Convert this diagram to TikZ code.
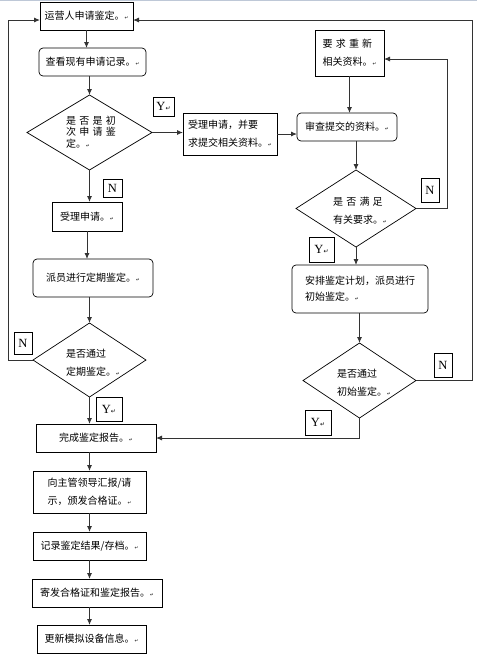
\documentclass[tikz,border=0pt]{standalone}
\usepackage{fontspec}
\setmainfont{Liberation Serif}
\newfontfamily\cjk{Noto Sans CJK SC}
\newfontfamily\dvs{DejaVu Sans}
\usetikzlibrary{arrows.meta,shapes.geometric,calc}
\definecolor{topline}{RGB}{190,200,215}
\newcommand{\pmk}{{\dvs\fontsize{4.5}{5}\selectfont ↵}}
\newcommand{\pmy}{{\dvs\fontsize{6}{6}\selectfont ↵}}
\newcommand{\gp}{\hspace{3.2pt}}
\begin{document}
\begin{tikzpicture}[x=1pt,y=-1pt,
  every node/.style={inner sep=0pt, outer sep=0pt},
  txt/.style={font=\cjk\fontsize{10}{18}\selectfont, align=left},
  box/.style={txt, draw=black, line width=0.7pt},
  rbox/.style={box, rounded corners=4pt},
  dia/.style={diamond, draw=black, line width=0.7pt},
  lab/.style={draw=black, line width=0.6pt, font=\fontsize{12.5}{13}\selectfont},
  arr/.style={draw=black!80, line width=0.9pt, -{Latex[length=6pt,width=5pt]}},
  lin/.style={draw=black!80, line width=0.9pt}
]
\useasboundingbox (0,0) rectangle (477,657);
\draw[topline, line width=1.2pt] (0,0.6) -- (477,0.6);

% left column
\node[box, minimum width=93pt, minimum height=28pt] (b1) at (86.5,16) {运营人申请鉴定。\pmk};
\node[rbox, minimum width=107pt, minimum height=28pt] (b2) at (92.5,62) {查看现有申请记录。\pmk};
\node[dia, minimum width=125pt, minimum height=75pt] (d1) at (89.5,132.5) {};
\node[txt, font=\cjk\fontsize{10}{11.5}\selectfont] (d1t) at (91,132) {是\gp 否\gp 是\gp 初\\次\gp 申\gp 请\gp 鉴\\定。\pmk};
\node[box, minimum width=70pt, minimum height=29pt] (b6) at (87,216.5) {受理申请。\pmk};
\node[rbox, minimum width=120pt, minimum height=38pt] (b7) at (93,278) {派员进行定期鉴定。\pmk};
\node[dia, minimum width=113pt, minimum height=74pt] (d2) at (89.5,360) {};
\node[txt] (d2t) at (93,362.5) {是否通过\\定期鉴定。\pmk};
\node[box, minimum width=120pt, minimum height=28pt] (b8) at (96,438) {完成鉴定报告。\pmk};
\node[box, minimum width=113pt, minimum height=42pt] (b9) at (89.5,492) {向主管领导汇报/请\\示，颁发合格证。\pmk};
\node[box, minimum width=113pt, minimum height=28pt] (b10) at (89.5,546) {记录鉴定结果/存档。\pmk};
\node[box, minimum width=130pt, minimum height=28pt] (b11) at (97,593) {寄发合格证和鉴定报告。\pmk};
\node[box, minimum width=109pt, minimum height=28pt] (b12) at (91.5,639) {更新模拟设备信息。\pmk};

% right part
\node[box, minimum width=94pt, minimum height=42pt] (b3) at (230,134) {受理申请，并要\\求提交相关资料。\pmk};
\node[rbox, minimum width=100pt, minimum height=28pt] (b4) at (347,127) {审查提交的资料。\pmk};
\node[box, minimum width=69pt, minimum height=46pt] (br) at (349.5,53) {要\gp 求\gp 重\gp 新\\相关资料。\pmk};
\node[dia, minimum width=120pt, minimum height=77pt] (d3) at (356,208.5) {};
\node[txt] (d3t) at (360,211) {是\gp 否\gp 满\gp 足\\有关要求。\pmk};
\node[rbox, minimum width=136pt, minimum height=48pt, font=\cjk\fontsize{10}{16}\selectfont] (b5) at (360,289) {安排鉴定计划，派员进行\\初始鉴定。\pmk};
\node[dia, minimum width=113pt, minimum height=75pt] (d4) at (359.5,380.5) {};
\node[txt] (d4t) at (364,382.5) {是否通过\\初始鉴定。\pmk};

% Y / N labels
\node[lab, minimum width=21pt, minimum height=19pt] (yl1) at (163.5,106.5) {Y\pmy};
\node[lab, minimum width=19pt, minimum height=18pt] (nl1) at (112.5,188) {N};
\node[lab, minimum width=18pt, minimum height=22pt] (nl2) at (23,343) {N};
\node[lab, minimum width=26pt, minimum height=24pt] (yl2) at (109,409) {Y\pmy};
\node[lab, minimum width=18pt, minimum height=24pt] (nl3) at (430,190) {N};
\node[lab, minimum width=25pt, minimum height=25pt] (yl3) at (321.5,249.5) {Y\pmy};
\node[lab, minimum width=18pt, minimum height=24pt] (nl4) at (443,365) {N};
\node[lab, minimum width=26pt, minimum height=25pt] (yl4) at (318,422.5) {Y\pmy};

% helper coordinates
\coordinate (cA) at (447,0);
\coordinate (cB) at (472,0);
\coordinate (cC) at (8,0);
\coordinate (brE) at ([yshift=-6pt]br.east);
\coordinate (b1E) at ([yshift=-4pt]b1.east);
\coordinate (b1W) at ([yshift=-4pt]b1.west);

% connectors left column
\draw[arr] (b1.south) -- (b1.south |- b2.north);
\draw[arr] (b2.south -| d1.north) -- (d1.north);
\draw[arr] (d1.south) -- (d1.south |- b6.north);
\draw[arr] (b6.south) -- (b6.south |- b7.north);
\draw[arr] (d2.north |- b7.south) -- (d2.north);
\draw[arr] (d2.south) -- (d2.south |- b8.north);
\draw[arr] (b9.north |- b8.south) -- (b9.north);
\draw[arr] (b9.south) -- (b9.south |- b10.north);
\draw[arr] (b10.south) -- (b10.south |- b11.north);
\draw[arr] (b10.south |- b11.south) -- (b10.south |- b12.north);

% right part
\draw[arr] (d1.east) -- (d1.east -| b3.west);
\draw[arr] (b3.east) -- (b3.east -| b4.west);
\draw[arr] (br.south) -- (br.south |- b4.north);
\draw[arr] (b4.south -| d3.north) -- (d3.north);
\draw[arr] (d3.south) -- (d3.south |- b5.north);
\draw[arr] (d4.north |- b5.south) -- (d4.north);
\draw[arr] (d4.south) |- (b8.east);

% loops
\draw[arr] (d3.east) -| (cA |- brE) -- (brE);
\draw[arr] (d4.east) -| (cB |- b1E) -- (b1E);
\draw[arr] (d2.west) -| (cC |- b1W) -- (b1W);
\end{tikzpicture}
\end{document}
